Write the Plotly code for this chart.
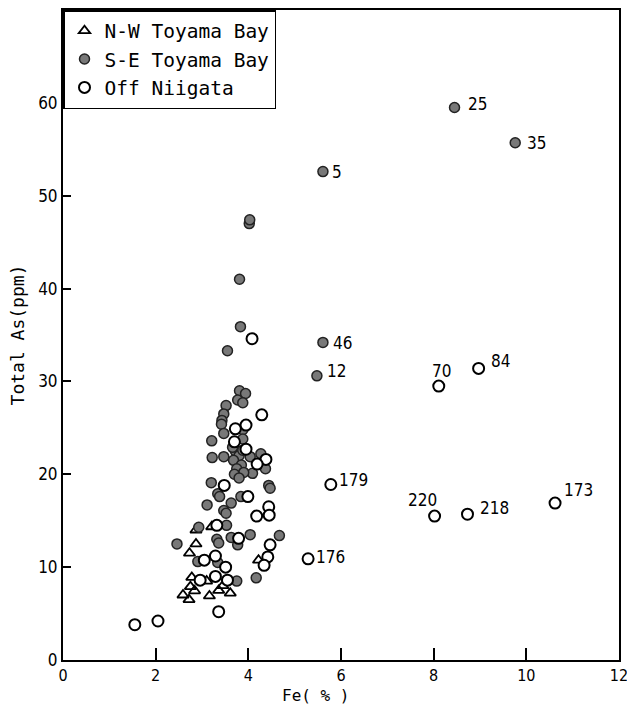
import plotly.graph_objects as go

# N-W Toyama Bay (open triangles)
nw_fe = [2.87, 3.21, 2.87, 2.73, 4.22, 2.78, 2.75, 2.84, 2.59, 2.72, 3.10, 3.16, 3.36, 3.45, 3.61]
nw_as = [14.0, 14.35, 12.5, 11.5, 10.75, 8.9, 7.9, 7.45, 7.0, 6.5, 8.5, 6.9, 7.5, 8.0, 7.2]

# S-E Toyama Bay (filled gray circles)
se_fe = [8.45, 9.76, 5.61, 4.02, 4.03, 3.81, 3.83, 3.55, 5.61, 5.48,
         3.81, 3.94, 3.77, 3.88, 3.52, 3.47, 3.43, 3.42, 3.47, 3.88, 3.88, 3.21,
         3.22, 3.47, 4.04, 4.27, 4.37, 4.09, 3.20, 3.34, 3.38, 4.44, 4.47, 3.84,
         3.11, 3.63, 3.47, 3.52, 2.93, 3.53, 3.32, 3.36, 3.63, 3.77, 4.04, 4.67,
         2.46, 2.91, 3.34, 3.75, 4.17,
         3.72, 3.80, 3.68, 3.85, 3.75, 3.90, 3.70, 3.80, 3.66, 3.88]
se_as = [59.5, 55.7, 52.6, 47.0, 47.4, 41.0, 35.9, 33.3, 34.2, 30.6,
         29.0, 28.7, 28.0, 27.7, 27.4, 26.5, 25.8, 25.4, 24.4, 24.8, 23.8, 23.6,
         21.8, 21.9, 21.9, 22.2, 20.6, 20.1, 19.1, 17.9, 17.6, 18.8, 18.5, 17.6,
         16.7, 16.9, 16.1, 15.8, 14.3, 14.5, 13.0, 12.6, 13.2, 12.4, 13.5, 13.4,
         12.5, 10.6, 10.5, 8.5, 8.85,
         22.5, 22.0, 21.5, 21.0, 20.6, 20.2, 20.0, 19.6, 22.9, 22.6]

# Off Niigata (open circles)
off_fe = [4.08, 4.29, 3.95, 3.72, 3.70, 3.95, 4.38, 4.19, 3.48, 3.99, 4.44, 4.45,
          4.18, 3.32, 3.79, 4.47, 4.42, 4.34, 3.29, 3.05, 3.51, 3.29, 2.96, 3.55,
          3.36, 2.05, 1.55,
          8.11, 8.97, 5.78, 8.02, 8.73, 10.62, 5.29]
off_as = [34.6, 26.4, 25.3, 24.9, 23.5, 22.7, 21.6, 21.1, 18.8, 17.6, 16.5, 15.6,
          15.5, 14.5, 13.1, 12.4, 11.1, 10.2, 11.2, 10.75, 10.0, 9.0, 8.6, 8.6,
          5.2, 4.2, 3.8,
          29.5, 31.4, 18.9, 15.5, 15.7, 16.9, 10.9]

# sample number labels
label_text = ["25", "35", "5", "46", "12", "70", "84", "179", "220", "218", "173", "176"]
label_fe = [8.45, 9.76, 5.61, 5.61, 5.48, 8.11, 8.97, 5.78, 8.02, 8.73, 10.62, 5.29]
label_as = [59.5, 55.7, 52.6, 34.2, 30.6, 29.5, 31.4, 18.9, 15.5, 15.7, 16.9, 10.9]

x_ticks = [0, 2, 4, 6, 8, 10, 12]
y_ticks = [0, 10, 20, 30, 40, 50, 60]

# label offsets in pixels (dx, dy, anchor)
label_pos = {
    "25": (11, -4, "left"), "35": (10, 0, "left"), "5": (7, 0, "left"),
    "46": (8, 1, "left"), "12": (8, -5, "left"), "70": (3, -15, "center"),
    "84": (10, -7, "left"), "179": (6, -5, "left"), "220": (-12, -16, "center"),
    "218": (11, -6, "left"), "173": (7, -13, "left"), "176": (6, -2, "left"),
}

NUMFONT = "DejaVu Sans Condensed, Liberation Sans Narrow, DejaVu Sans, sans-serif"
MONO = "DejaVu Sans Mono, Liberation Mono, monospace"

fig = go.Figure()
fig.add_trace(go.Scatter(
    x=nw_fe, y=nw_as, mode="markers", name="N-W Toyama Bay",
    marker=dict(symbol="triangle-up-open", size=10, color="black",
                line=dict(width=1.8, color="black"))))
fig.add_trace(go.Scatter(
    x=se_fe, y=se_as, mode="markers", name="S-E Toyama Bay",
    marker=dict(symbol="circle", size=10, color="#787878",
                line=dict(width=1.5, color="#222222"))))
fig.add_trace(go.Scatter(
    x=off_fe, y=off_as, mode="markers", name="Off Niigata",
    marker=dict(symbol="circle", size=11, color="white",
                line=dict(width=2, color="black"))))

for t, fx, fy in zip(label_text, label_fe, label_as):
    dx, dy, anc = label_pos[t]
    fig.add_annotation(x=fx, y=fy, text=t, showarrow=False, xanchor=anc,
                       yanchor="middle", xshift=dx, yshift=-dy,
                       font=dict(family=NUMFONT, size=17, color="black"))

fig.add_annotation(x=-0.082, y=0.5, xref="paper", yref="paper", text="Total As(ppm)",
                   textangle=-90, showarrow=False, xanchor="center", yanchor="middle",
                   font=dict(family=MONO, size=18, color="black"))
fig.add_annotation(x=0.455, y=-0.054, xref="paper", yref="paper", text="Fe( % )",
                   showarrow=False, xanchor="center", yanchor="middle",
                   font=dict(family=MONO, size=16, color="black"))

fig.update_layout(
    width=627, height=706,
    margin=dict(l=63, r=8, t=10, b=46, autoexpand=False),
    paper_bgcolor="white", plot_bgcolor="white",
    showlegend=True,
    legend=dict(x=0, y=1, xanchor="left", yanchor="top",
                bordercolor="black", borderwidth=1.5, bgcolor="white",
                font=dict(family=MONO, size=19.5, color="black"),
                itemwidth=30, tracegroupgap=0),
    xaxis=dict(range=[0, 12], tickvals=x_ticks, ticks="inside", ticklen=12,
               tickwidth=2, tickcolor="black", showline=True, linecolor="black",
               linewidth=2, mirror=True, showgrid=False, zeroline=False,
               ticklabeloverflow="allow", automargin=False,
               tickfont=dict(family=NUMFONT, size=16, color="black")),
    yaxis=dict(range=[0, 70], tickvals=y_ticks, ticks="inside", ticklen=8,
               tickwidth=2, tickcolor="black", showline=True, linecolor="black",
               linewidth=2, mirror=True, showgrid=False, zeroline=False,
               automargin=False,
               tickfont=dict(family=NUMFONT, size=17, color="black")),
)

fig.write_html("out.html")
